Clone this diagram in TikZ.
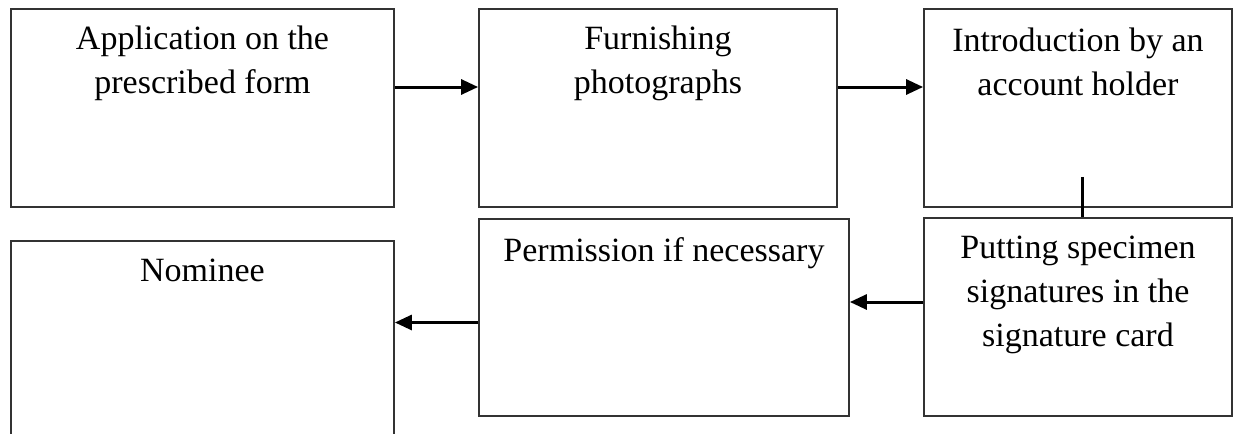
\documentclass[tikz,border=0pt]{standalone}
\usepackage{fontspec}
\setmainfont{Liberation Serif}
\usepackage{tikz}
\usetikzlibrary{arrows.meta,positioning}
\definecolor{boxline}{HTML}{333333}
\tikzset{
every picture/.style={line join=miter},
step box/.style={
  draw=boxline,
  line width=0.9pt,
  minimum height=99pt,
  inner sep=0pt
},
step text/.style={
  align=center,
  inner sep=0pt,
  anchor=north,
  font=\fontsize{17}{22}\selectfont
},
step flow/.style={
  draw=black,
  -{Triangle[length=8.5pt,width=7.5pt]},
  line width=1.5pt
}
}
\begin{document}
\begin{tikzpicture}[x=0.5pt,y=-0.5pt]
\clip (0,0) rectangle (1233,434);
\node[step box,minimum width=191.5pt] (app) at (202.5,108) {};
\node[step box,minimum width=179pt] (photo) at (658,108) {};
\node[step box,minimum width=154pt] (intro) at (1078,108) {};
\node[step box,minimum width=154pt] (spec) at (1078,317) {};
\node[step box,minimum width=185pt,minimum height=98.5pt] (perm) at (664,317.5) {};
\node[step box,minimum width=191.5pt] (nom) at (202.5,340) {};
\node[step text,below=8.6pt of app.north] (appt) {Application on the\\prescribed form};
\node[step text,below=8.6pt of photo.north] (photot) {Furnishing\\photographs};
\node[step text,below=9.6pt of intro.north] (introt) {Introduction by an\\account holder};
\node[step text,below=9.1pt of spec.north] (spect) {Putting specimen\\signatures in the\\signature card};
\node[step text,below=9.6pt of perm.north] (permt) {Permission if necessary};
\node[step text,below=9.2pt of nom.north] (nomt) {Nominee};
\coordinate (introdown) at ([xshift=2pt,yshift=15.5pt]intro.south);
\coordinate (specout) at ([yshift=7.5pt]spec.west);
\coordinate (permout) at ([yshift=-2.5pt]perm.west);
\draw[step flow] ([yshift=10.5pt]app.east) -- ([yshift=10.5pt]photo.west);
\draw[step flow] ([yshift=10.5pt]photo.east) -- ([yshift=10.5pt]intro.west);
\draw[line width=1.5pt] (introdown) -- (introdown |- spec.north);
\draw[step flow] (specout) -- (specout -| perm.east);
\draw[step flow] (permout) -- (permout -| nom.east);
\end{tikzpicture}
\end{document}
